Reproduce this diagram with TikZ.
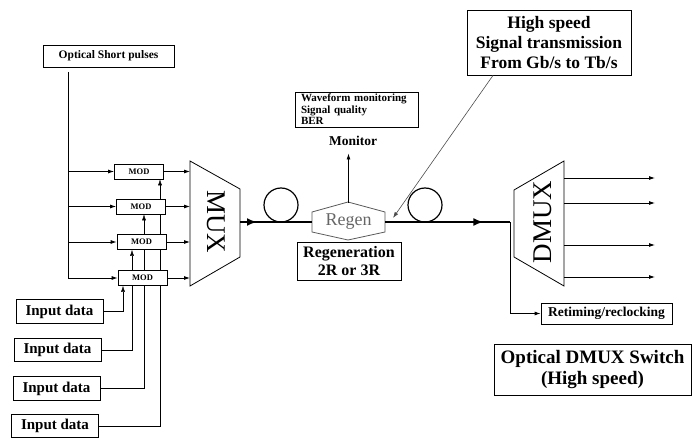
\documentclass[tikz,border=0pt]{standalone}
\usepackage{fontspec}
\setmainfont{Liberation Serif}
\usetikzlibrary{calc,arrows.meta,backgrounds,decorations.markings}

\begin{document}
\begin{tikzpicture}[x=1pt,y=-1pt,line width=0.8pt,
  box/.style={draw,fill=white,inner sep=0pt},
  arr/.style={-{Latex[length=6pt,width=4pt]}},
  fiber/.style={line width=2.2pt},
  midarr/.style={postaction={decorate},decoration={markings,mark=at position #1 with {\arrow{Latex[length=10pt,width=8pt]}}}}]
\useasboundingbox (0,0) rectangle (692,438);

% transmitter side
\node[box,minimum width=131pt,minimum height=22pt,font=\bfseries\fontsize{11.5}{13}\selectfont] (pulses) at (108.5,56) {Optical Short pulses};
\foreach \i/\x/\y in {1/139/171.5,2/141/206.5,3/141.5/242,4/142.5/278}
  \node[box,minimum width=49pt,minimum height=15pt,font=\bfseries\fontsize{8.5}{9}\selectfont] (mod\i) at (\x,\y) {MOD};
\foreach \i/\x/\y in {1/59.5/311.5,2/57.5/350,3/56.5/388.5,4/55/426}
  \node[box,minimum width=87pt,minimum height=23.5pt,font=\bfseries\fontsize{15}{16}\selectfont] (in\i) at (\x,\y) {Input data};

\coordinate (tap) at (68,72);
\draw (tap) -- (tap |- mod4.west);
\foreach \i in {1,...,4}
  \draw[arr] (tap |- mod\i.west) -- (mod\i.west);

\draw (190,161) -- (240,189) -- (240,257) -- (190,286) -- cycle;
\node[rotate=-90,font=\fontsize{27}{27}\selectfont] (mux) at (216,222) {MUX};
\coordinate (muxin) at (190,0);
\foreach \i in {1,...,4}
  \draw[arr] (mod\i.east) -- (mod\i.east -| muxin);

\begin{scope}[on background layer]
\draw[arr] (in1.east) -| ([xshift=-19.5pt]mod4.south);
\draw[arr] (in2.east) -| ([xshift=-9.5pt]mod3.south);
\draw[arr] (in3.east) -| ([xshift=3pt]mod2.south);
\draw[arr] (in4.east) -| ([xshift=21pt]mod1.south);
\end{scope}

% link
\node[font=\fontsize{18}{18}\selectfont,text=gray!80!black,minimum width=73pt,minimum height=38pt,inner sep=0pt] (regen) at (348.5,222) {Regen};
\draw[gray!70!black] (312,212) -- (348,202) -- (385,212) -- (385,232) -- (348,240) -- (312,232) -- cycle;
\coordinate (muxout) at (240,222);
\draw[fiber,midarr=17pt] (muxout) -- (regen.west);
\draw[line width=1.2pt] (281,205) circle (17pt);

\node[box,align=left,minimum width=123pt,minimum height=35pt,text width=111pt,font=\bfseries\fontsize{11}{11.5}\selectfont] (mon) at (356.5,109.5) {Waveform monitoring\\Signal quality\\BER};
\node[font=\bfseries\fontsize{13.5}{13.5}\selectfont] (monlbl) at (353,141) {Monitor};
\draw[arr] (regen.north) -- ([yshift=-4pt]regen.north |- monlbl.south);
\node[box,align=center,minimum width=104pt,minimum height=38pt,font=\bfseries\fontsize{16}{18}\selectfont] (regbox) at (349,261) {Regeneration\\2R or 3R};

\coordinate (split) at (510,222);
\draw[fiber,midarr=98pt] (regen.east) -- (split);
\draw[line width=1.2pt] (425,205) circle (17pt);

\node[box,align=center,minimum width=164pt,minimum height=65pt,font=\bfseries\fontsize{17.5}{20}\selectfont] (speed) at (549,42.5) {High speed\\Signal transmission\\From Gb/s to Tb/s};
\coordinate (tip) at (393,218);
\draw[arr,gray!60!black,line width=0.6pt] ([xshift=-56pt]speed.south) -- (tip);

% receiver side
\draw (514,190) -- (564,161) -- (564,286) -- (514,257) -- cycle;
\node[rotate=90,font=\fontsize{27}{27}\selectfont] (dmux) at (543,222) {DMUX};
\node[box,minimum width=131pt,minimum height=21pt,font=\bfseries\fontsize{13.5}{13.5}\selectfont] (ret) at (606.5,313.5) {Retiming/reclocking};
\draw[arr] (split) |- (ret.west);
\coordinate (dout) at (564,0);
\coordinate (dend) at (655,0);
\foreach \y in {178,203,245,277}
  \draw[arr] (dout |- 0,\y) -- (dend |- 0,\y);

\node[box,align=center,minimum width=197pt,minimum height=51pt,font=\bfseries\fontsize{19}{21}\selectfont] (switch) at (592.5,369.5) {Optical DMUX Switch\\(High speed)};
\end{tikzpicture}
\end{document}
